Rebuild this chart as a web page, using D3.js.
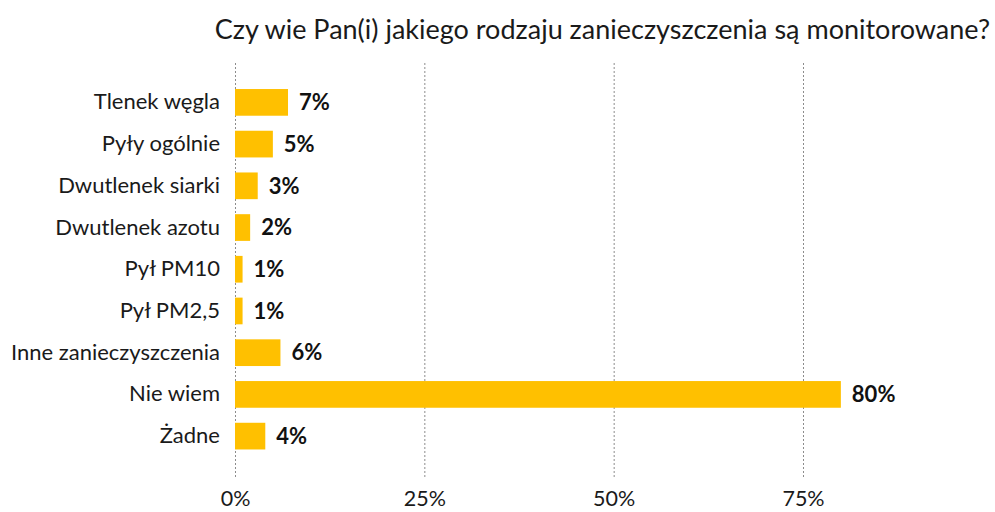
<!DOCTYPE html>
<html>
<head>
<meta charset="utf-8">
<script src="https://cdn.jsdelivr.net/npm/d3@7"></script>
<style>
  html, body { margin: 0; padding: 0; background: #fff; }
  svg { display: block; font-family: Lato, "Noto Sans", sans-serif; }
</style>
</head>
<body>
<svg id="chart" width="995" height="512"></svg>
<script>
// Survey answers and their shares (%)
const categories = [
  "Tlenek węgla",
  "Pyły ogólnie",
  "Dwutlenek siarki",
  "Dwutlenek azotu",
  "Pył PM10",
  "Pył PM2,5",
  "Inne zanieczyszczenia",
  "Nie wiem",
  "Żadne"
];
const values = [7, 5, 3, 2, 1, 1, 6, 80, 4];
const tickValues = [0, 25, 50, 75];
const title = "Czy wie Pan(i) jakiego rodzaju zanieczyszczenia są monitorowane?";

const svg = d3.select("#chart");
const plot = { left: 235, right: 803, top: 63, bottom: 478 };

const x = d3.scaleLinear().domain([0, 75]).range([plot.left, plot.right]);
const y = d3.scaleBand()
  .domain(categories)
  .range([61.5, 477])
  .paddingInner(0.36)
  .paddingOuter(0.66);

// Title
svg.append("text")
  .attr("x", 990)
  .attr("y", 39)
  .attr("text-anchor", "end")
  .attr("font-size", 27)
  .attr("fill", "#1a1a1a")
  .text(title);

// Dashed vertical gridlines
svg.append("g")
  .selectAll("line")
  .data(tickValues)
  .join("line")
  .attr("x1", d => x(d) + 0.5)
  .attr("x2", d => x(d) + 0.5)
  .attr("y1", plot.top)
  .attr("y2", plot.bottom)
  .attr("stroke", "#8c8c8c")
  .attr("stroke-width", 1)
  .attr("stroke-dasharray", "2,2");

// Bottom axis (labels only)
const xAxis = d3.axisBottom(x)
  .tickValues(tickValues)
  .tickFormat(d => d + "%")
  .tickSize(0)
  .tickPadding(0);
const gx = svg.append("g")
  .attr("transform", `translate(0, ${plot.bottom + 13})`)
  .call(xAxis);
gx.select(".domain").remove();
gx.selectAll("text")
  .attr("font-family", "Lato, 'Noto Sans', sans-serif")
  .attr("font-size", 21.5)
  .attr("fill", "#1a1a1a")
  .attr("dy", "0.71em");

// Left axis (category labels only)
const yAxis = d3.axisLeft(y).tickSize(0).tickPadding(15);
const gy = svg.append("g")
  .attr("transform", `translate(${plot.left}, 0)`)
  .call(yAxis);
gy.select(".domain").remove();
gy.selectAll("text")
  .attr("font-family", "Lato, 'Noto Sans', sans-serif")
  .attr("font-size", 22)
  .attr("fill", "#1a1a1a");

// Bars
const rows = categories.map((c, i) => ({ c, v: values[i] }));
svg.append("g")
  .selectAll("rect")
  .data(rows)
  .join("rect")
  .attr("x", x(0))
  .attr("y", d => y(d.c))
  .attr("width", d => x(d.v) - x(0))
  .attr("height", y.bandwidth())
  .attr("fill", "#FFC000");

// Value labels
svg.append("g")
  .selectAll("text")
  .data(rows)
  .join("text")
  .attr("x", d => x(d.v) + 11)
  .attr("y", d => y(d.c) + y.bandwidth() / 2)
  .attr("dy", "0.35em")
  .attr("font-size", 22)
  .attr("font-weight", "bold")
  .attr("fill", "#111")
  .text(d => d.v + "%");
</script>
</body>
</html>
